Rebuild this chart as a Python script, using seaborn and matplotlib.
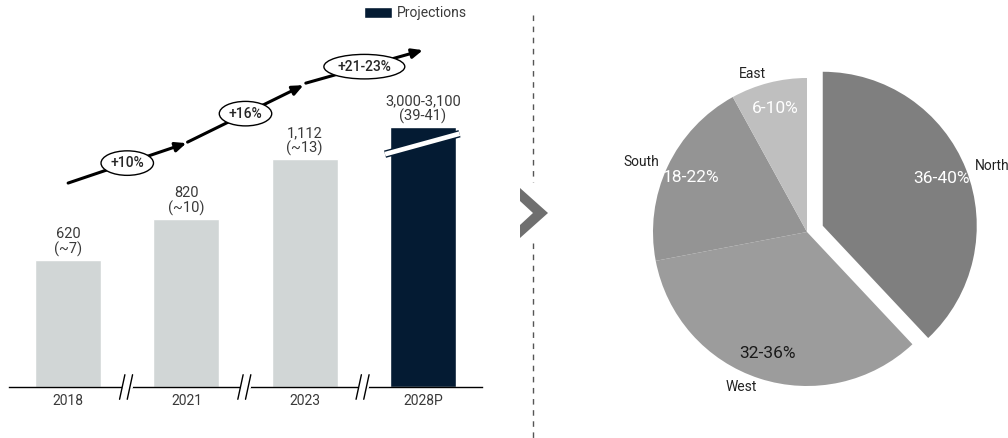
import numpy as np
import matplotlib
matplotlib.use('Agg')
import matplotlib.pyplot as plt
import seaborn as sns
from matplotlib.patches import Patch, Polygon
from matplotlib.lines import Line2D

# --- data ---
years = ["2018", "2021", "2023", "2028P"]
values = [620, 820, 1112, 3050]
value_labels = ["620", "820", "1,112", "3,000-3,100"]
sub_labels = ["(~7)", "(~10)", "(~13)", "(39-41)"]
is_projection = [False, False, False, True]
growth_labels = ["+10%", "+16%", "+21-23%"]

regions = ["North", "West", "South", "East"]
shares = [38, 34, 20, 8]
share_labels = ["36-40%", "32-36%", "18-22%", "6-10%"]

# display cap for the broken (projection) bar
axis_cap = 1270

LIGHT = "#d1d6d6"
NAVY = "#041b33"
TXT = "#3a3a3a"
W, H = 1008, 438

sns.set_style("white")
plt.rcParams['font.family'] = ['Roboto', 'DejaVu Sans']

fig = plt.figure(figsize=(W / 100, H / 100), dpi=100)


def fx(px):
    return px / W


def fy(py):
    return 1 - py / H


# --- left: bar chart ---
ax = fig.add_axes([fx(9), fy(387), fx(482) - fx(9), fy(0) - fy(387)])
heights = np.minimum(values, axis_cap)
palette = [NAVY if p else LIGHT for p in is_projection]
sns.barplot(x=years, y=heights, hue=years, palette=palette, legend=False,
            width=0.56, saturation=1, ax=ax)
ax.set_xlim(-0.5, 3.5)
ax.set_ylim(0, 1890)
ax.set_yticks([])
ax.set_xlabel("")
ax.set_ylabel("")
sns.despine(ax=ax, left=True)
ax.spines['bottom'].set_color("black")
ax.spines['bottom'].set_linewidth(1.0)
ax.tick_params(axis='x', length=0, pad=5, labelsize=10, labelcolor=TXT)

for i, h in enumerate(heights):
    ax.text(i, h + 14, f"{value_labels[i]}\n{sub_labels[i]}", ha='center', va='bottom',
            fontsize=10.5, color=TXT, linespacing=1.05)

# broken-bar cut on the projection bar
i_proj = is_projection.index(True)
cut_x = [i_proj - 0.32, i_proj + 0.31]
cut_y = [axis_cap - 133, axis_cap - 33]
ax.plot(cut_x, cut_y, color=NAVY, lw=5.4, solid_capstyle='butt', clip_on=False, zorder=5)
ax.plot(cut_x, cut_y, color="white", lw=3.4, solid_capstyle='butt', clip_on=False, zorder=6)

# axis breaks between categories
for b in [0.5, 1.5, 2.5]:
    ax.plot([b - 0.03, b + 0.03], [0, 0], color="white", lw=3, clip_on=False, zorder=6)
    for dx in (-0.045, 0.02):
        ax.plot([b + dx - 0.02, b + dx + 0.025], [-60, 60], color="black", lw=1.0,
                clip_on=False, zorder=7)

# growth trend arrow
arrow_x = [(0.0, 1.0), (1.01, 1.99), (2.01, 3.0)]
arrow_y = [(996, 1191), (1196, 1474), (1484, 1645)]
for (x0, x1), (y0, y1) in zip(arrow_x, arrow_y):
    ax.annotate("", xy=(x1, y1), xytext=(x0, y0), annotation_clip=False,
                arrowprops=dict(arrowstyle="-|>,head_length=0.32,head_width=0.14",
                                mutation_scale=20, lw=2.2, color="black",
                                shrinkA=0, shrinkB=0))
for k, lab in enumerate(growth_labels):
    (x0, x1), (y0, y1) = arrow_x[k], arrow_y[k]
    xm = (x0 + x1) / 2
    ym = y0 + (y1 - y0) * (xm - x0) / (x1 - x0)
    ax.text(xm, ym, lab, ha='center', va='center', fontsize=10, fontweight='medium', zorder=8,
            bbox=dict(boxstyle="ellipse,pad=0.12", fc="white", ec="black", lw=1.0))

fig.legend(handles=[Patch(facecolor=NAVY, label="Projections")], loc='upper right',
           bbox_to_anchor=(fx(467), fy(6)), frameon=False, fontsize=10,
           handlelength=2.0, handleheight=0.85, handletextpad=0.35,
           borderpad=0, borderaxespad=0, labelcolor=TXT)

# --- divider + chevron ---
for y0, y1 in [(15, 182), (243, 438)]:
    fig.add_artist(Line2D([fx(533), fx(533)], [fy(y0), fy(y1)], color="#555555", lw=1,
                          linestyle=(0, (4, 4))))
chev = [(520, 188), (548, 213), (520, 238), (520, 225), (533, 213), (520, 201)]
fig.add_artist(Polygon([(fx(x), fy(y)) for x, y in chev], closed=True,
                       facecolor="#6f6f6f", edgecolor="none", transform=fig.transFigure))

# --- right: pie ---
R = 154
pax = fig.add_axes([fx(607), fy(432), fx(400), 400 / H])
label_iter = iter(share_labels)
wedges, texts, autotexts = pax.pie(
    shares, labels=regions, colors=["#7f7f7f", "#9c9c9c", "#949494", "#bfbfbf"],
    startangle=90, counterclock=False, explode=[0.11, 0, 0, 0],
    labeldistance=1.06, autopct=lambda p: next(label_iter), pctdistance=0.83,
    wedgeprops=dict(linewidth=0), textprops=dict(fontsize=10, color="#222222"))
for t, c in zip(autotexts, ["white", "#1a1a1a", "white", "white"]):
    t.set_color(c)
    t.set_fontsize(12.5)
pax.set_xlim(-200 / R, 200 / R)
pax.set_ylim(-200 / R, 200 / R)
pax.set_aspect('equal')
pax.axis('off')

fig.savefig("out.png", dpi=100)
